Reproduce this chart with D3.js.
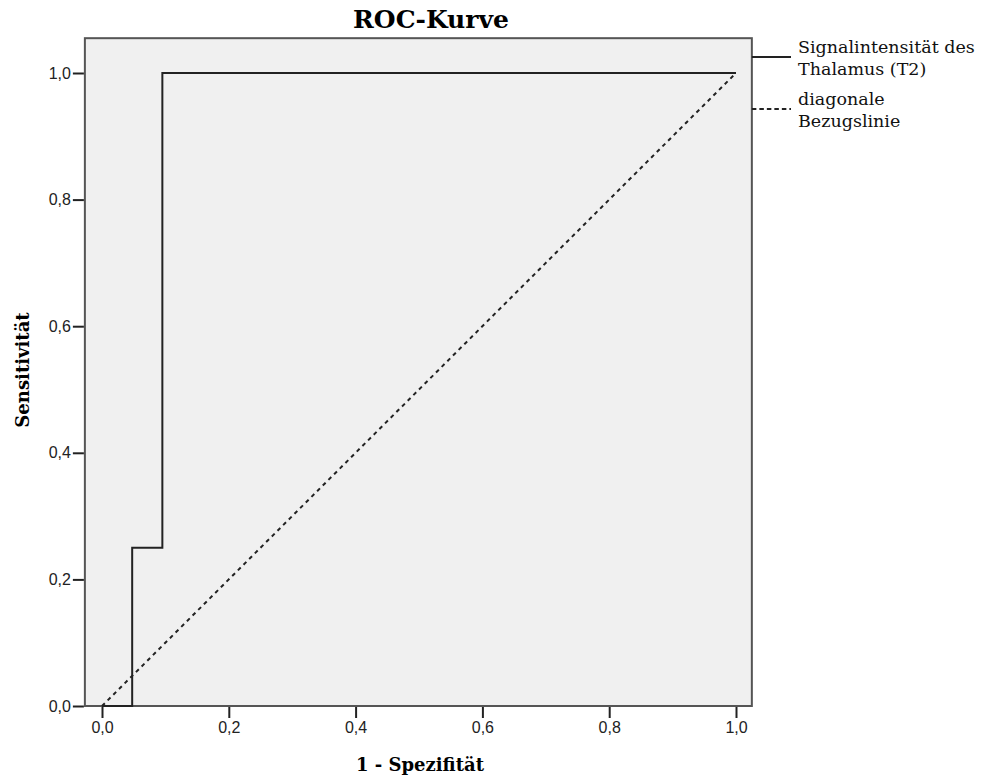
<!DOCTYPE html>
<html>
<head>
<style>
  body { margin: 0; background: #fff; }
</style>
</head>
<body>
<div id="chart"></div>
<script src="https://cdn.jsdelivr.net/npm/d3@7"></script>
<script>
// ROC curve points (1 - specificity, sensitivity)
var rocX = [0, 0.0476, 0.0476, 0.0952, 0.0952, 1.0];
var rocY = [0, 0, 0.25, 0.25, 1.0, 1.0];
var diagX = [0, 1];
var diagY = [0, 1];
var tickVals = [0, 0.2, 0.4, 0.6, 0.8, 1.0];
var legendLabels = [["Signalintensität des", "Thalamus (T2)"], ["diagonale", "Bezugslinie"]];

var W = 984, H = 780;
var svg = d3.select('#chart').append('svg').attr('width', W).attr('height', H);

var x = d3.scaleLinear().domain([0, 1]).range([102, 736]);
var y = d3.scaleLinear().domain([0, 1]).range([706, 73]);

var pLeft = x(-0.027), pRight = x(1.025), pTop = y(1.055), pBottom = y(0);

// plot background
svg.append('rect')
  .attr('x', pLeft).attr('y', pTop)
  .attr('width', pRight - pLeft).attr('height', pBottom - pTop)
  .attr('fill', '#f0f0f0')
  .attr('stroke', '#555').attr('stroke-width', 2);

function fmt(d){ return d3.format('.1f')(d).replace('.', ','); }

// axes
var xAxis = d3.axisBottom(x).tickValues(tickVals).tickSize(11).tickPadding(4).tickFormat(fmt);
var yAxis = d3.axisLeft(y).tickValues(tickVals).tickSize(11).tickPadding(2).tickFormat(fmt);

var gx = svg.append('g').attr('transform', 'translate(0,' + (pBottom + 1) + ')').call(xAxis);
gx.select('.domain').remove();
var gy = svg.append('g').attr('transform', 'translate(' + (pLeft - 1) + ',0)').call(yAxis);
gy.select('.domain').remove();

[gx, gy].forEach(function(g){
  g.selectAll('.tick line').attr('stroke', '#222').attr('stroke-width', 2);
  g.selectAll('.tick text')
    .style('font-family', '"Liberation Sans", Arial, sans-serif')
    .style('font-size', '16px').attr('fill', '#222');
});

// lines
var line = d3.line().x(function(d){ return x(d[0]); }).y(function(d){ return y(d[1]); });

svg.append('path')
  .datum(diagX.map(function(v, i){ return [v, diagY[i]]; }))
  .attr('d', line)
  .attr('fill', 'none').attr('stroke', '#222').attr('stroke-width', 2)
  .attr('stroke-dasharray', '4,4');

svg.append('path')
  .datum(rocX.map(function(v, i){ return [v, rocY[i]]; }))
  .attr('d', line)
  .attr('fill', 'none').attr('stroke', '#222').attr('stroke-width', 2);

// title
svg.append('text')
  .attr('x', 431).attr('y', 28)
  .attr('text-anchor', 'middle')
  .style('font-family', '"DejaVu Serif", serif')
  .style('font-weight', 'bold').style('font-size', '25px')
  .text('ROC-Kurve');

// axis titles
svg.append('text')
  .attr('x', 420).attr('y', 771)
  .attr('text-anchor', 'middle')
  .style('font-family', '"DejaVu Serif", serif')
  .style('font-weight', 'bold').style('font-size', '18px')
  .text('1 - Spezifität');

svg.append('text')
  .attr('transform', 'translate(29,370) rotate(-90)')
  .attr('text-anchor', 'middle')
  .style('font-family', '"DejaVu Serif", serif')
  .style('font-weight', 'bold').style('font-size', '18px')
  .text('Sensitivität');

// legend
var legY = [57, 109];
var legDash = [null, '4.5,3'];
legendLabels.forEach(function(lab, i){
  svg.append('line')
    .attr('x1', pRight).attr('x2', 791)
    .attr('y1', legY[i]).attr('y2', legY[i])
    .attr('stroke', '#222').attr('stroke-width', 2)
    .attr('stroke-dasharray', legDash[i]);
  var t = svg.append('text')
    .attr('x', 798).attr('y', legY[i] - 4)
    .style('font-family', '"DejaVu Serif", serif')
    .style('font-size', '17.5px').attr('fill', '#111');
  lab.forEach(function(s, j){
    t.append('tspan').attr('x', 798).attr('dy', j === 0 ? 0 : 22).text(s);
  });
});
</script>
</body>
</html>
